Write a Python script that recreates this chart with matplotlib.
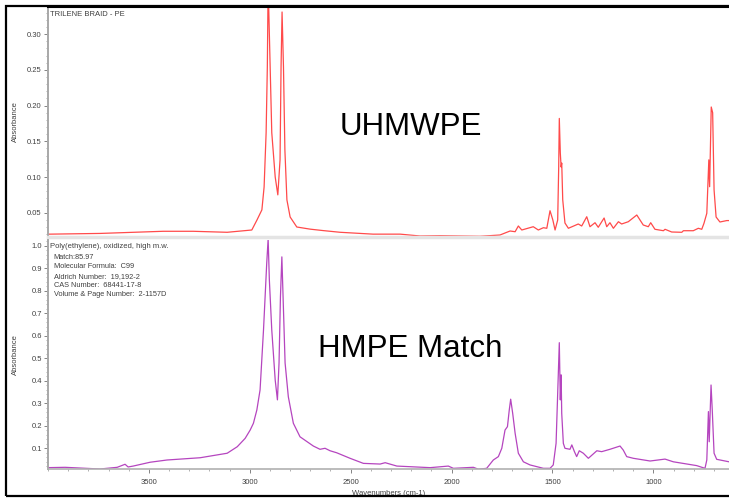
import numpy as np
import matplotlib
matplotlib.use("Agg")
import matplotlib.pyplot as plt
from matplotlib.patches import Rectangle
from matplotlib.ticker import MultipleLocator, FormatStrFormatter

plt.rcParams['font.family'] = ['Liberation Sans', 'DejaVu Sans']

# sample spectrum: TRILENE BRAID - PE
sample_wn = [4000, 3990, 3742, 3429, 3281, 3112, 2990, 2964, 2952, 2940, 2929, 2919, 2913, 2909,
             2899, 2891, 2874, 2861, 2850, 2845, 2840, 2833, 2826, 2816, 2800, 2767, 2701, 2637,
             2552, 2389, 2255, 2156, 2057, 1859, 1760, 1710, 1685, 1669, 1652, 1595, 1570, 1545,
             1528, 1512, 1498, 1487, 1474, 1469, 1466, 1461, 1457, 1454, 1449, 1438, 1421, 1372,
             1355, 1330, 1314, 1289, 1273, 1244, 1231, 1215, 1198, 1173, 1157, 1124, 1082, 1050,
             1025, 1013, 992, 950, 942, 909, 859, 851, 802, 777, 760, 749, 735, 725, 721, 713,
             706, 699, 689, 670, 636, 625]
sample_abs = [0.020, 0.020, 0.021, 0.024, 0.024, 0.0226, 0.0258, 0.040, 0.047, 0.054, 0.086, 0.162,
              0.254, 0.370, 0.254, 0.162, 0.100, 0.075, 0.124, 0.254, 0.331, 0.254, 0.138, 0.068,
              0.044, 0.030, 0.027, 0.025, 0.0226, 0.020, 0.020, 0.0174, 0.0178, 0.017, 0.0188,
              0.0244, 0.0234, 0.0314, 0.0258, 0.0304, 0.0258, 0.029, 0.0282, 0.0528, 0.0398,
              0.0258, 0.0398, 0.114, 0.182, 0.1335, 0.114, 0.1195, 0.068, 0.0356, 0.0282, 0.0342,
              0.0314, 0.0444, 0.0304, 0.036, 0.0296, 0.0426, 0.0304, 0.036, 0.0282, 0.0374,
              0.0342, 0.0374, 0.0468, 0.0328, 0.0304, 0.036, 0.0268, 0.0248, 0.0268, 0.023,
              0.0226, 0.0248, 0.0248, 0.0282, 0.0268, 0.0352, 0.0492, 0.124, 0.0864, 0.198,
              0.190, 0.082, 0.044, 0.037, 0.039, 0.039]

# library match: Poly(ethylene), oxidized, high m.w.
match_wn = [4000, 3915, 3742, 3657, 3618, 3603, 3578, 3494, 3410, 3246, 3112, 3062, 3023, 2998,
            2982, 2965, 2949, 2932, 2924, 2916, 2909, 2903, 2891, 2874, 2863, 2855, 2848, 2841,
            2835, 2825, 2809, 2784, 2751, 2685, 2652, 2627, 2602, 2569, 2503, 2437, 2354, 2329,
            2271, 2106, 2016, 1991, 1892, 1867, 1826, 1793, 1768, 1751, 1735, 1723, 1714, 1707,
            1697, 1685, 1669, 1644, 1611, 1545, 1512, 1496, 1482, 1474, 1466, 1461, 1457, 1454,
            1446, 1438, 1413, 1404, 1391, 1380, 1367, 1347, 1322, 1280, 1256, 1215, 1165, 1149,
            1132, 1099, 1016, 942, 901, 785, 744, 735, 727, 723, 714, 708, 699, 686, 625]
match_abs = [0.014, 0.0155, 0.008, 0.0155, 0.029, 0.017, 0.021, 0.038, 0.048, 0.058, 0.078, 0.107,
             0.144, 0.181, 0.211, 0.270, 0.359, 0.625, 0.773, 0.922, 1.030, 0.848, 0.625, 0.403,
             0.315, 0.479, 0.773, 0.950, 0.773, 0.479, 0.329, 0.211, 0.151, 0.110, 0.0955, 0.100,
             0.089, 0.080, 0.0555, 0.033, 0.030, 0.036, 0.021, 0.014, 0.021, 0.011, 0.0155, 0.007,
             0.011, 0.048, 0.063, 0.100, 0.181, 0.196, 0.270, 0.318, 0.255, 0.167, 0.078, 0.040,
             0.026, 0.011, 0.011, 0.026, 0.122, 0.344, 0.569, 0.315, 0.426, 0.255, 0.122, 0.100,
             0.0955, 0.115, 0.085, 0.063, 0.089, 0.078, 0.0555, 0.089, 0.085, 0.0955, 0.110,
             0.092, 0.063, 0.0555, 0.0435, 0.052, 0.040, 0.023, 0.011, 0.048, 0.263, 0.129,
             0.381, 0.270, 0.078, 0.051, 0.040]

match_info = ["Match:85.97",
              "Molecular Formula:  C99",
              "Aldrich Number:  19,192-2",
              "CAS Number:  68441-17-8",
              "Volume & Page Number:  2-1157D"]

W, H = 729, 498
fig = plt.figure(figsize=(W / 100, H / 100), dpi=100)
fig.patch.set_facecolor('white')

grey = '#404040'
left = 48 / W
ax1 = fig.add_axes([left, (H - 237) / H, 1 - left, 230 / H])
ax2 = fig.add_axes([left, (H - 469) / H, 1 - left, 229 / H])

ax1.plot(sample_wn, sample_abs, color='#ff4a4a', lw=0.9)
ax2.plot(match_wn, match_abs, color='#b545bf', lw=0.9)

ax1.set_ylim(0.016, 0.338)
ax2.set_ylim(0.008, 1.025)
for ax in (ax1, ax2):
    ax.set_xlim(4000, 625)
    for s in ('top', 'right'):
        ax.spines[s].set_visible(False)
    ax.spines['left'].set_color('#a8a8a8')
    ax.spines['left'].set_linewidth(1.4)
    ax.tick_params(axis='y', which='major', length=3, width=0.6, colors='#707070',
                   labelcolor=grey, labelsize=5.5, pad=1.5)
    ax.tick_params(axis='y', which='minor', length=1.5, width=0.5, colors='#909090')
    ax.set_ylabel('Absorbance', fontsize=5.5, color=grey)
    # same x for both labels regardless of tick label width
    ax.yaxis.set_label_coords(-29 / (W - 48), 0.5)

ax1.yaxis.set_major_locator(MultipleLocator(0.05))
ax1.yaxis.set_minor_locator(MultipleLocator(0.01))
ax1.yaxis.set_major_formatter(FormatStrFormatter('%.2f'))
ax1.set_xticks([])
ax1.spines['bottom'].set_color('#e4e4e4')
ax1.spines['bottom'].set_linewidth(2.5)
ax1.spines['top'].set_visible(True)
ax1.spines['top'].set_color('black')
ax1.spines['top'].set_linewidth(1.5)

ax2.yaxis.set_major_locator(MultipleLocator(0.1))
ax2.yaxis.set_minor_locator(MultipleLocator(0.02))
ax2.yaxis.set_major_formatter(FormatStrFormatter('%.1f'))
ax2.set_xticks([3500, 3000, 2500, 2000, 1500, 1000])
ax2.xaxis.set_minor_locator(MultipleLocator(100))
ax2.spines['bottom'].set_color('#b0b0b0')
ax2.spines['bottom'].set_linewidth(1.2)
ax2.tick_params(axis='x', which='major', length=3, width=0.6, colors='#707070',
                labelcolor=grey, labelsize=5.5, pad=4)
ax2.tick_params(axis='x', which='minor', length=1.5, width=0.5, colors='#909090')
ax2.set_xlabel('Wavenumbers (cm-1)', fontsize=5.5, color=grey, labelpad=3)

# panel captions
fig.text(50 / W, (H - 15) / H, 'TRILENE BRAID - PE', fontsize=5.5, color=grey, va='center')
fig.text(50 / W, (H - 246) / H, 'Poly(ethylene), oxidized, high m.w.', fontsize=5.5,
         color=grey, va='center')
for i, line in enumerate(match_info):
    fig.text(53.5 / W, (H - 257.7 - i * 9.3) / H, line, fontsize=5.3, color=grey, va='center')

fig.text(340 / W, (H - 135) / H, 'UHMWPE', fontsize=22.5, color='black', va='baseline')
fig.text(318 / W, (H - 357) / H, 'HMPE Match', fontsize=22.5, color='black', va='baseline')

# outer frame
fig.add_artist(Rectangle((6 / W, 2 / H), 1.2, (H - 8) / H, transform=fig.transFigure,
                         fill=False, ec='black', lw=1.6))

fig.savefig('out.png', dpi=100)
